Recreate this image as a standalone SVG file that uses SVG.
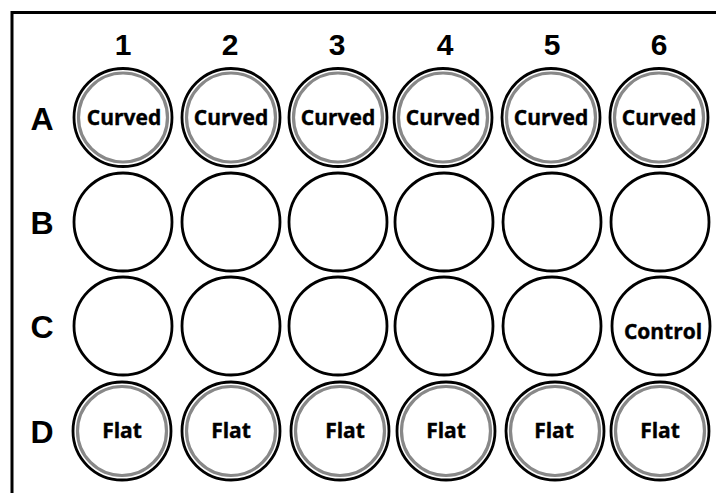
<svg xmlns="http://www.w3.org/2000/svg" width="716" height="493" viewBox="0 0 716 493">
<style>
.frame{fill:none;stroke:#000;stroke-width:3}
.well{fill:#fff;stroke:#000;stroke-width:2.8}
.ring{fill:none;stroke:#888;stroke-width:3.2}
.hdr{font-family:"Liberation Sans",Arial,sans-serif;font-weight:bold;fill:#000;text-anchor:middle}
.col{font-size:30px}
.row{font-size:32px}
.lbl{font-family:"Open Sans","Noto Sans",sans-serif;font-weight:bold;font-size:21px;fill:#000;text-anchor:middle;stroke:#000;stroke-width:0.4}
</style>
<rect x="0" y="0" width="716" height="493" fill="#fff"/>
<rect class="frame" x="12" y="12.5" width="720" height="500"/>
<g id="headers">
<text class="hdr col" x="123" y="55">1</text>
<text class="hdr col" x="230" y="55">2</text>
<text class="hdr col" x="337" y="55">3</text>
<text class="hdr col" x="445" y="55">4</text>
<text class="hdr col" x="552" y="55">5</text>
<text class="hdr col" x="659" y="55">6</text>
<text class="hdr row" x="42" y="130">A</text>
<text class="hdr row" x="42" y="234">B</text>
<text class="hdr row" x="42" y="338">C</text>
<text class="hdr row" x="42" y="443">D</text>
</g>
<g id="A1"><circle class="well" cx="123" cy="117.5" r="49"/><circle class="ring" cx="123" cy="117.5" r="44.5"/><text class="lbl" x="124" y="125">Curved</text></g>
<g id="A2"><circle class="well" cx="231" cy="117.5" r="49"/><circle class="ring" cx="231" cy="117.5" r="44.5"/><text class="lbl" x="231" y="125">Curved</text></g>
<g id="A3"><circle class="well" cx="338" cy="117.5" r="49"/><circle class="ring" cx="338" cy="117.5" r="44.5"/><text class="lbl" x="338" y="125">Curved</text></g>
<g id="A4"><circle class="well" cx="443" cy="117.5" r="49"/><circle class="ring" cx="443" cy="117.5" r="44.5"/><text class="lbl" x="443" y="125">Curved</text></g>
<g id="A5"><circle class="well" cx="551" cy="117.5" r="49"/><circle class="ring" cx="551" cy="117.5" r="44.5"/><text class="lbl" x="551" y="125">Curved</text></g>
<g id="A6"><circle class="well" cx="659" cy="117.5" r="49"/><circle class="ring" cx="659" cy="117.5" r="44.5"/><text class="lbl" x="659" y="125">Curved</text></g>
<g id="B1"><circle class="well" cx="123" cy="222" r="49"/></g>
<g id="B2"><circle class="well" cx="231" cy="222" r="49"/></g>
<g id="B3"><circle class="well" cx="338" cy="222" r="49"/></g>
<g id="B4"><circle class="well" cx="444" cy="222" r="49"/></g>
<g id="B5"><circle class="well" cx="552" cy="222" r="49"/></g>
<g id="B6"><circle class="well" cx="660" cy="222" r="49"/></g>
<g id="C1"><circle class="well" cx="123" cy="326" r="49"/></g>
<g id="C2"><circle class="well" cx="231" cy="326" r="49"/></g>
<g id="C3"><circle class="well" cx="338" cy="326" r="49"/></g>
<g id="C4"><circle class="well" cx="444" cy="326" r="49"/></g>
<g id="C5"><circle class="well" cx="552" cy="326" r="49"/></g>
<g id="C6"><circle class="well" cx="661" cy="326" r="49"/><text class="lbl" x="663" y="339">Control</text></g>
<g id="D1"><circle class="well" cx="122" cy="431" r="49"/><circle class="ring" cx="122" cy="431" r="44.5"/><text class="lbl" x="122" y="438">Flat</text></g>
<g id="D2"><circle class="well" cx="231" cy="431" r="49"/><circle class="ring" cx="231" cy="431" r="44.5"/><text class="lbl" x="231" y="438">Flat</text></g>
<g id="D3"><circle class="well" cx="340" cy="431" r="49"/><circle class="ring" cx="340" cy="431" r="44.5"/><text class="lbl" x="345" y="438">Flat</text></g>
<g id="D4"><circle class="well" cx="446" cy="431" r="49"/><circle class="ring" cx="446" cy="431" r="44.5"/><text class="lbl" x="446" y="438">Flat</text></g>
<g id="D5"><circle class="well" cx="555" cy="431" r="49"/><circle class="ring" cx="555" cy="431" r="44.5"/><text class="lbl" x="554" y="438">Flat</text></g>
<g id="D6"><circle class="well" cx="660" cy="431" r="49"/><circle class="ring" cx="660" cy="431" r="44.5"/><text class="lbl" x="660" y="438">Flat</text></g>
<g id="connectors"/>
</svg>
